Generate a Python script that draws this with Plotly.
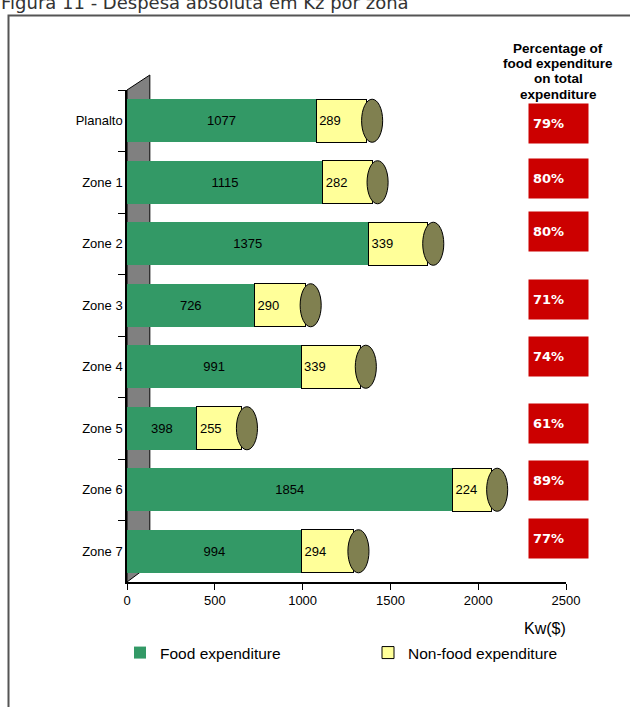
import plotly.graph_objects as go

zones = ["Planalto", "Zone 1", "Zone 2", "Zone 3", "Zone 4", "Zone 5", "Zone 6", "Zone 7"]
food = [1077, 1115, 1375, 726, 991, 398, 1854, 994]
nonfood = [289, 282, 339, 290, 339, 255, 224, 294]
pct_food = [79, 80, 80, 71, 74, 61, 89, 77]
x_ticks = [0, 500, 1000, 1500, 2000, 2500]
header_lines = ["Percentage of", "food expenditure", "on total", "expenditure"]

GREEN = "#339966"
YELLOW = "#FFFF99"
OLIVE = "#808050"
RED = "#CC0000"
FONT = "Arial, Liberation Sans, sans-serif"

W, H = 630, 707
L, R, T, B = 127, 64, 90, 125
PW, PH = W - L - R, H - T - B
# vertical pixel nudges of the percentage boxes (layout only)
BOX_SHIFT = [-3, 4, 12, 6, 10, 5, 9, 13]
HEADER_Y = [48.5, 63.5, 78.5, 94]


def px_x(p):
    return (p - L) / PW


def px_y(p):
    return 1 - (p - T) / PH


fig = go.Figure()
fig.add_trace(go.Bar(
    y=zones, x=food, orientation="h", name="Food expenditure", legend="legend",
    marker=dict(color=GREEN, line=dict(width=0)),
    text=[str(v) for v in food], textposition="inside", insidetextanchor="middle",
    textfont=dict(family=FONT, size=13, color="black"), constraintext="none",
    width=0.7,
))
fig.add_trace(go.Bar(
    y=zones, x=nonfood, orientation="h", name="Non-food expenditure", legend="legend2",
    marker=dict(color=YELLOW, line=dict(width=1, color="black")),
    text=[str(v) for v in nonfood], textposition="inside", insidetextanchor="start",
    textfont=dict(family=FONT, size=13, color="black"), constraintext="none",
    width=0.7,
))

shapes = []
# back wall (decorative 3D depth)
shapes.append(dict(
    type="path", xref="x", yref="paper", layer="below",
    path=f"M 0 0 L 130 {px_y(565)} L 130 {px_y(75)} L 0 {px_y(90)} Z",
    fillcolor="#808080", line=dict(color="black", width=1),
))
# cylinder end caps, derived from the data
for i, (f, n) in enumerate(zip(food, nonfood)):
    tot = f + n
    shapes.append(dict(
        type="circle", xref="x", yref="y", layer="above",
        x0=tot - 30, x1=tot + 90, y0=i - 0.35, y1=i + 0.35,
        fillcolor=OLIVE, line=dict(color="black", width=1),
    ))
# outer frame
shapes.append(dict(
    type="rect", xref="paper", yref="paper",
    x0=px_x(8.5), x1=px_x(700), y0=px_y(760), y1=px_y(15.5),
    line=dict(color="#555555", width=2), fillcolor="rgba(0,0,0,0)",
))

annotations = []
annotations.append(dict(
    xref="paper", yref="paper", x=px_x(-1), y=px_y(15), xanchor="left", yanchor="bottom",
    text="Figura 11 - Despesa absoluta em Kz por zona", showarrow=False,
    font=dict(family="DejaVu Sans, Verdana, sans-serif", size=18, color="#333333"),
))
for line, yy in zip(header_lines, HEADER_Y):
    annotations.append(dict(
        xref="paper", yref="paper", x=px_x(558), y=px_y(yy), xanchor="center", yanchor="middle",
        text=f"<b>{line}</b>", showarrow=False,
        font=dict(family=FONT, size=13.5, color="black"),
    ))
for z, p, s in zip(zones, pct_food, BOX_SHIFT):
    annotations.append(dict(
        xref="paper", yref="y", x=px_x(528), y=z, xanchor="left", yanchor="middle", yshift=s,
        text=f"<b>{p}%</b>", showarrow=False, width=51, height=31, borderpad=4,
        align="left", valign="middle", bgcolor=RED,
        font=dict(family="DejaVu Sans, Verdana, sans-serif", size=13, color="white"),
    ))
annotations.append(dict(
    xref="paper", yref="paper", x=px_x(545), y=px_y(628), xanchor="center", yanchor="middle",
    text="Kw($)", showarrow=False, font=dict(family=FONT, size=16, color="black"),
))

legend_common = dict(
    orientation="h", yanchor="middle", xanchor="left", y=px_y(653),
    font=dict(family=FONT, size=15.5, color="black"), itemwidth=30,
    bgcolor="rgba(0,0,0,0)",
)

fig.update_layout(
    width=W, height=H, margin=dict(l=L, r=R, t=T, b=B, autoexpand=False),
    barmode="stack", plot_bgcolor="white", paper_bgcolor="white",
    font=dict(family=FONT, size=13, color="black"),
    showlegend=True,
    legend=dict(x=px_x(120), **legend_common),
    legend2=dict(x=px_x(368), **legend_common),
    xaxis=dict(
        range=[0, 2500], tickvals=x_ticks, ticktext=[str(v) for v in x_ticks],
        showline=True, linecolor="black", linewidth=1.5, ticks="outside", ticklen=6,
        tickcolor="black", showgrid=False, zeroline=False,
        tickfont=dict(family=FONT, size=13, color="black"),
    ),
    yaxis=dict(
        categoryorder="array", categoryarray=zones, range=[7.5, -0.5],
        showline=True, linecolor="black", linewidth=1.5, ticks="outside", ticklen=7,
        tickson="boundaries", tickcolor="black", showgrid=False, zeroline=False,
        tickfont=dict(family=FONT, size=13, color="black"),
    ),
    shapes=shapes, annotations=annotations,
)

fig.write_html(
    "out.html",
    config={"displayModeBar": False},
    post_script="document.body.style.margin='0';document.body.style.overflow='hidden';",
)
